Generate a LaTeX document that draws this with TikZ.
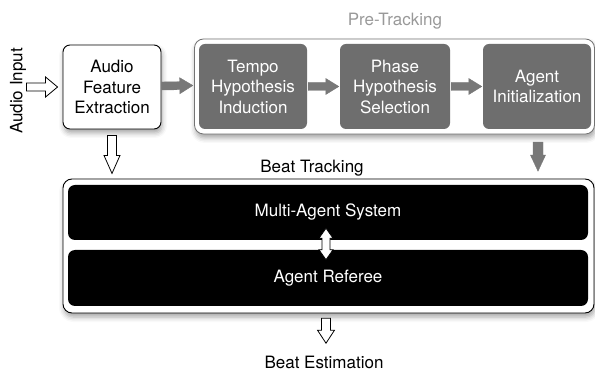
\documentclass[tikz,border=0pt]{standalone}
\usepackage{fontspec}
\setmainfont{TeX Gyre Heros}
\usetikzlibrary{calc,shadows.blur}
\begin{document}
\begin{tikzpicture}[x=1pt,y=-1pt,
  ash/.store in=\ash, ahd/.store in=\ahd, ahl/.store in=\ahl,
  ash=4pt, ahd=8pt, ahl=12pt,
  blockto/.style={to path={
      -- ($(\tikztostart)!\ash!90:(\tikztotarget)$)
   -- ($(\tikztotarget)!\ahl!(\tikztostart)!\ash!90:(\tikztotarget)$)
   -- ($(\tikztotarget)!\ahl!(\tikztostart)!\ahd!90:(\tikztotarget)$)
   -- (\tikztotarget)
   -- ($(\tikztotarget)!\ahl!(\tikztostart)!\ahd!-90:(\tikztotarget)$)
   -- ($(\tikztotarget)!\ahl!(\tikztostart)!\ash!-90:(\tikztotarget)$)
   -- ($(\tikztostart)!\ash!-90:(\tikztotarget)$) -- cycle}},
  blockboth/.style={to path={
      -- ($(\tikztostart)!\ahl!(\tikztotarget)!\ahd!90:(\tikztotarget)$)
   -- ($(\tikztostart)!\ahl!(\tikztotarget)!\ash!90:(\tikztotarget)$)
   -- ($(\tikztotarget)!\ahl!(\tikztostart)!\ash!90:(\tikztotarget)$)
   -- ($(\tikztotarget)!\ahl!(\tikztostart)!\ahd!90:(\tikztotarget)$)
   -- (\tikztotarget)
   -- ($(\tikztotarget)!\ahl!(\tikztostart)!\ahd!-90:(\tikztotarget)$)
   -- ($(\tikztotarget)!\ahl!(\tikztostart)!\ash!-90:(\tikztotarget)$)
   -- ($(\tikztostart)!\ahl!(\tikztotarget)!\ash!-90:(\tikztotarget)$)
   -- ($(\tikztostart)!\ahl!(\tikztotarget)!\ahd!-90:(\tikztotarget)$)
   -- cycle}},
  shad/.style={blur shadow={shadow xshift=1pt, shadow yshift=-4pt, shadow blur radius=5pt, shadow opacity=35}},
  lightshad/.style={blur shadow={shadow xshift=0pt, shadow yshift=-3pt, shadow blur radius=4pt, shadow opacity=25}},
  txt/.style={font=\fontsize{17}{20.5}\selectfont, align=center, inner sep=0pt},
  whitebox/.style={draw=black, line width=0.9pt, fill=white, rounded corners=7pt, inner sep=0pt, shad, txt},
  graybox/.style={fill=black!57, rounded corners=6pt, inner sep=0pt, txt, text=white, minimum height=85pt},
  blackbox/.style={fill=black, rounded corners=7pt, inner sep=0pt, txt, text=white, minimum width=520pt},
  hollowarr/.style={draw=black, line width=0.8pt, fill=white, line join=miter},
  grayarr/.style={fill=black!53, draw=black!53, line width=0.4pt, line join=miter}
]
\useasboundingbox (0,0) rectangle (595,371);

% Pre-Tracking group
\node[draw=black!55, line width=0.8pt, fill=white, rounded corners=9pt, shad,
      minimum width=400pt, minimum height=95pt] (pre) at (394.5,86.5) {};
\node[txt, text=black!40] (prelbl) at (395,21) {Pre-Tracking};
\node[graybox, minimum width=108pt] (tempo) at (253,86.5) {Tempo\\Hypothesis\\Induction};
\node[graybox, minimum width=110pt] (phase) at (395,86.5) {Phase\\Hypothesis\\Selection};
\node[graybox, minimum width=108pt] (agent) at (537,86.5) {Agent\\Initialization};

% Audio feature extraction
\node[whitebox, minimum width=98pt, minimum height=84pt] (afe) at (112,87) {Audio\\Feature\\Extraction};
\node[txt, rotate=90] (ain) at (18,91) {Audio Input};

% Beat tracking group
\node[draw=black, line width=0.9pt, fill=white, rounded corners=9pt, shad,
      minimum width=531pt, minimum height=134pt] (bt) at (328.5,246) {};
\node[txt] (btlbl) at (312,168) {Beat Tracking};
\node[blackbox, minimum height=55pt] (mas) at (328,212.5) {Multi-Agent System};
\node[blackbox, minimum height=56pt] (ar) at (328,278) {Agent Referee};
\node[txt] (best) at (324,362) {Beat Estimation};

% connector end points (unitless offsets follow the picture's axes)
\coordinate (inA) at ($(afe.west)+(-36,0)$);
\coordinate (inB) at ($(afe.west)+(-5,0)$);
\coordinate (g1A) at ($(afe.east)+(0,-1)$);
\coordinate (g1B) at ($(tempo.west)+(-6,-1)$);
\coordinate (tpA) at ($(tempo.east)+(1,0)$);
\coordinate (tpB) at ($(phase.west)+(-1,0)$);
\coordinate (paA) at ($(phase.east)+(1,0)$);
\coordinate (paB) at ($(agent.west)+(-1,0)$);
\coordinate (dA) at ($(afe.south)+(0,6)$);
\coordinate (dB) at ($(afe.south)+(0,44)$);
\coordinate (gdA) at ($(agent.south)+(1,13)$);
\coordinate (gdB) at ($(agent.south)+(1,42)$);
\coordinate (mA) at ($(mas.south)+(-2,-12)$);
\coordinate (mB) at ($(ar.north)+(-2,10)$);
\coordinate (eA) at ($(ar.south)+(-2,12)$);
\coordinate (eB) at ($(ar.south)+(-2,37)$);

% arrows
\draw[hollowarr, ash=4pt, ahd=10pt, ahl=12pt] (inA) to[blockto] (inB);
\path[grayarr, ash=4pt, ahd=8pt, ahl=13pt] (g1A) to[blockto] (g1B);
\path[grayarr, ash=4pt, ahd=8pt, ahl=13pt] (tpA) to[blockto] (tpB);
\path[grayarr, ash=4pt, ahd=8pt, ahl=13pt] (paA) to[blockto] (paB);
\draw[hollowarr, ash=4.5pt, ahd=8pt, ahl=18pt] (dA) to[blockto] (dB);
\path[grayarr, ash=5pt, ahd=7.5pt, ahl=16pt] (gdA) to[blockto] (gdB);
\draw[hollowarr, ash=4pt, ahd=7pt, ahl=10pt] (mA) to[blockboth] (mB);
\draw[hollowarr, ash=4.5pt, ahd=8.5pt, ahl=13pt] (eA) to[blockto] (eB);
\end{tikzpicture}
\end{document}
